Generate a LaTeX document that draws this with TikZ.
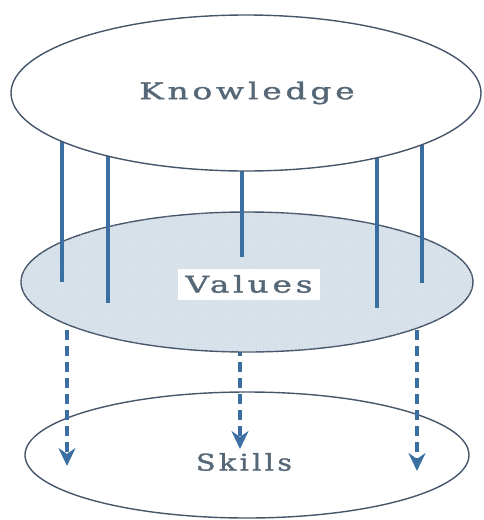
\documentclass[tikz,border=0pt]{standalone}
\usepackage{fontspec}
\newfontfamily\lblfont[LetterSpace=12,FakeBold=1.3]{DejaVu Serif}
\usetikzlibrary{shapes.geometric,arrows.meta,patterns}
\definecolor{pillarc}{HTML}{3B6FA2}
\definecolor{edgec}{HTML}{46566A}
\definecolor{textc}{HTML}{566877}
\definecolor{valfill}{HTML}{D6E0E8}
\definecolor{valdot}{HTML}{EEF3F7}
\begin{document}
\begin{tikzpicture}[x=1pt,y=-1pt,
  layer/.style={ellipse, draw=edgec, line width=1.4pt, inner sep=0pt},
  lbl/.style={text=textc, font=\lblfont\fontsize{23}{27}\selectfont, inner sep=0pt, xscale=1.42},
  pillar/.style={draw=pillarc, line width=3.5pt},
  flow/.style={draw=pillarc, line width=3.4pt, dash pattern=on 10pt off 6pt,
    -{Stealth[length=18pt,width=17pt,inset=6pt]}}]
\useasboundingbox (0,0) rectangle (484,520);
% Skills layer
\node[layer, minimum width=444pt, minimum height=126pt] (S) at (247,455) {};
% arrow end points
\coordinate (a1) at (67,466);
\coordinate (a2) at (240,449);
\coordinate (a3) at (417,471);
% Values layer center
\coordinate (vc) at (247,282);
\draw[flow] (vc -| a1) -- (a1);
\draw[flow] (vc -| a2) -- (a2);
\draw[flow] (vc -| a3) -- (a3);
\node[layer, minimum width=452pt, minimum height=140pt, fill=valfill,
  postaction={pattern=dots, pattern color=valdot}] (V) at (vc) {};
\node[lbl, fill=white, minimum width=100pt, minimum height=31pt] (Vt) at (249,284) {Values};
% pillars
\coordinate (p1) at (62,282);
\coordinate (p2) at (108,303);
\coordinate (p3) at (242,257);
\coordinate (p4) at (377,308);
\coordinate (p5) at (422,283);
\coordinate (kc) at (246,93);
\draw[pillar] (kc -| p1) -- (p1);
\draw[pillar] (kc -| p2) -- (p2);
\draw[pillar] (kc -| p3) -- (p3);
\draw[pillar] (kc -| p4) -- (p4);
\draw[pillar] (kc -| p5) -- (p5);
% Knowledge layer
\node[layer, minimum width=470pt, minimum height=156pt, fill=white] (K) at (kc) {};
\node[lbl] (Kt) at (247,93) {Knowledge};
\node[lbl, xscale=0.875] (St) at (244,462) {Skills};
\end{tikzpicture}
\end{document}
